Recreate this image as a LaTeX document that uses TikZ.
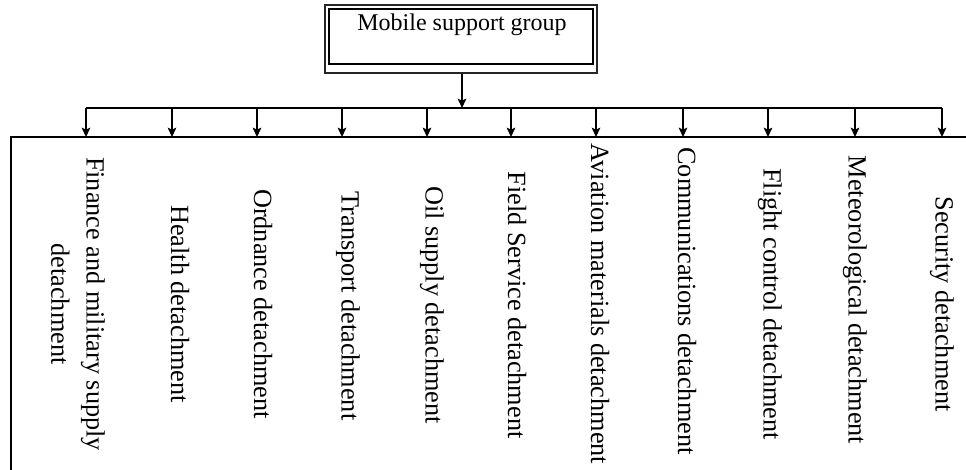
\documentclass[tikz,border=0pt]{standalone}
\usepackage{fontspec}
\setmainfont{Liberation Serif}
\usetikzlibrary{arrows.meta}
\begin{document}
\begin{tikzpicture}[x=0.75pt,y=-0.75pt,
  conn/.style={line width=1pt},
  arr/.style={line width=1pt,-{Stealth[length=7pt,width=6.5pt,inset=1.5pt]}},
  det/.style={rotate=-90,inner sep=0pt,align=center,font=\fontsize{19.7}{26.3}\selectfont},
  toptext/.style={inner sep=0pt,font=\fontsize{18}{22}\selectfont}]
\useasboundingbox (0,0) rectangle (966,470);
% top box (double frame)
\node[draw=black!85,line width=1.8pt,minimum width=204pt,minimum height=51pt,inner sep=0pt] (topouter) at (461,39) {};
\node[draw,line width=0.8pt,minimum width=198pt,minimum height=41.25pt,inner sep=0pt] (topinner) at (461,36.5) {};
\node[toptext] (toplabel) at (462,25) {Mobile support group};
% hub and bus
\coordinate (hub) at (462,108);
\draw[arr] (topouter.south -| hub) -- (hub);
\foreach \i/\x in {1/86,2/172,3/257,4/342,5/427,6/511,7/596,8/683,9/768,10/855,11/942}{
  \coordinate (b\i) at (\x,108);
  \coordinate (t\i) at (\x,137);
}
\draw[line width=1.2pt] (b1) -- (b11);
\foreach \i in {1,...,11}{
  \draw[arr] (b\i) -- (t\i);
}
% open frame
\coordinate (frR) at (966,137);
\coordinate (frL) at (11,137);
\coordinate (frB) at (11,470);
\draw[line width=1pt] (frR) -- (frL) -- (frB);
% detachments
\node[det] (d1) at (78,304) {Finance and military supply\\detachment};
\node[det] (d2) at (180,304) {Health detachment};
\node[det] (d3) at (263,304) {Ordnance detachment};
\node[det] (d4) at (348,306) {Transport detachment};
\node[det] (d5) at (432,305) {Oil supply detachment};
\node[det] (d6) at (517,305) {Field Service detachment};
\node[det] (d7) at (600,304) {Aviation materials detachment};
\node[det] (d8) at (687,301) {Communications detachment};
\node[det] (d9) at (770,304) {Flight control detachment};
\node[det] (d10) at (855,300) {Meteorological detachment};
\node[det] (d11) at (942,304) {Security detachment};
\end{tikzpicture}
\end{document}
